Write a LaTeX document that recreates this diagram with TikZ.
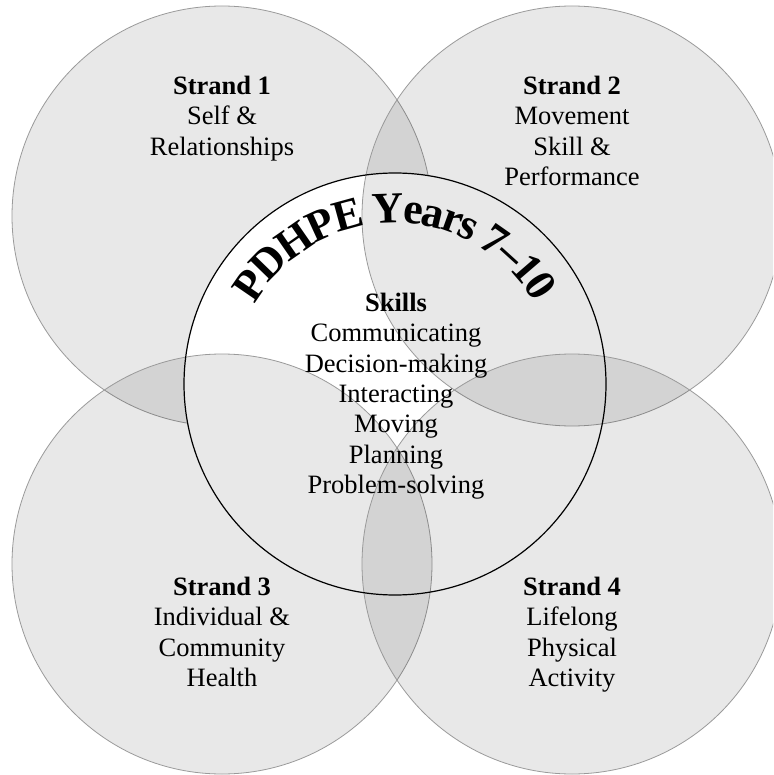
\documentclass[tikz,border=0pt]{standalone}
\usepackage{fontspec}
\setmainfont{Liberation Serif}
\usepackage{xcolor}
\usepackage{tikz}
\usetikzlibrary{decorations.text}
\definecolor{rim}{HTML}{9A9A9A}
\tikzset{
  ring/.style={draw=rim, line width=0.8pt, fill=black, fill opacity=0.09},
  core/.style={draw=black, line width=1.2pt},
  labs/.style={align=center, anchor=north, inner sep=0pt, font=\fontsize{26.5}{30.3}\selectfont}
}

\begin{document}
\begin{tikzpicture}[x=1pt,y=-1pt]
  \useasboundingbox (0,0) rectangle (773,775);
  \clip (0,0) rectangle (773,775);
  \fill[white] (0,0) rectangle (773,775);

  \coordinate (S1) at (222,216);
  \coordinate (S2) at (572,216);
  \coordinate (S3) at (222,564);
  \coordinate (S4) at (572,564);
  \coordinate (K) at (395,384);

  \draw[ring] (S1) circle[radius=210pt];
  \fill[white] (K) circle[radius=211pt];
  \draw[ring] (S2) circle[radius=210pt];
  \draw[ring] (S3) circle[radius=210pt];
  \draw[ring] (S4) circle[radius=210pt];
  \draw[core] (K) circle[radius=211pt];

  % title round the top of the hub
  \path[decorate, decoration={text along path, text align=center,
      text={|\fontsize{44}{44}\selectfont\bfseries\kern-2pt|PDHPE Years 7–10}}]
    (K) ++(165:161pt) arc[start angle=165, end angle=15, radius=161pt];

  \node[labs] (t1) at (222,76) {\textbf{Strand 1}\\Self \&\\Relationships};
  \node[labs] (t2) at (572,76) {\textbf{Strand 2}\\Movement\\Skill \&\\Performance};
  \node[labs] (t3) at (222,577) {\textbf{Strand 3}\\Individual \&\\Community\\Health};
  \node[labs] (t4) at (572,577) {\textbf{Strand 4}\\Lifelong\\Physical\\Activity};
  \node[labs] (sk) at (396,293) {\textbf{Skills}\\Communicating\\Decision-making\\Interacting\\Moving\\Planning\\Problem-solving};
\end{tikzpicture}
\end{document}
